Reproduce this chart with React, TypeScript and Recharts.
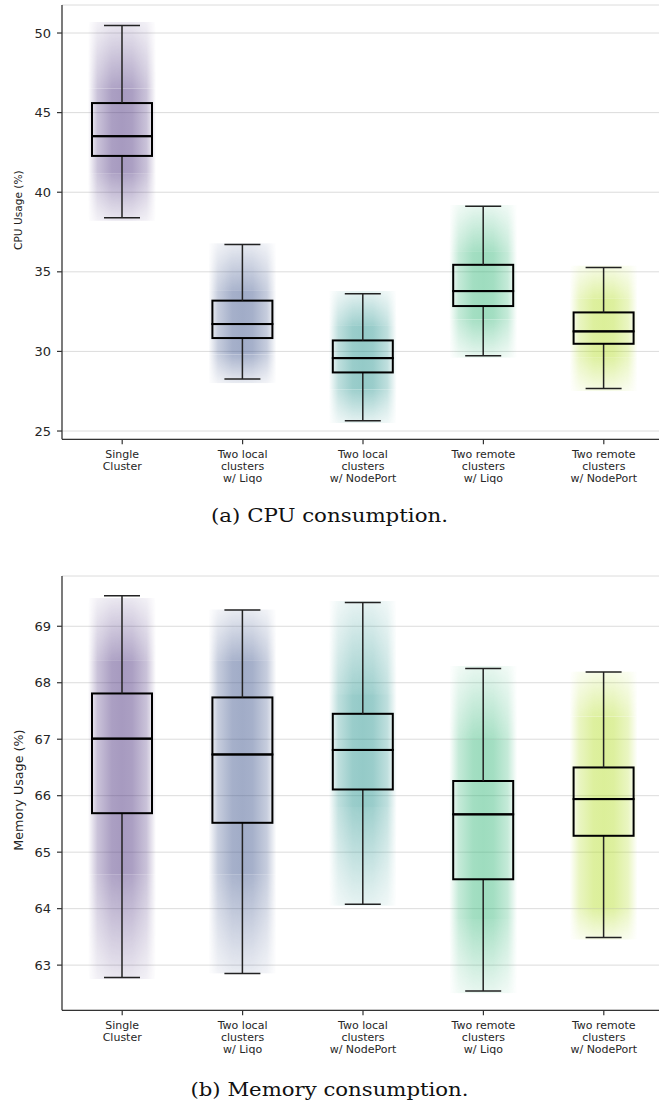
import React from 'react';
import { ComposedChart, Bar, XAxis, YAxis, CartesianGrid } from 'recharts';

const categories = [
  'Single\nCluster',
  'Two local\nclusters\nw/ Liqo',
  'Two local\nclusters\nw/ NodePort',
  'Two remote\nclusters\nw/ Liqo',
  'Two remote\nclusters\nw/ NodePort',
];
const colors = ['#472d7b', '#3b528b', '#21918c', '#35b779', '#b5de2b'];

// CPU box stats
const cpuMin = [38.4, 28.26, 25.64, 29.73, 27.67];
const cpuQ1 = [42.28, 30.84, 28.68, 32.85, 30.48];
const cpuMedian = [43.52, 31.72, 29.58, 33.79, 31.26];
const cpuQ3 = [45.6, 33.19, 30.69, 35.44, 32.45];
const cpuMax = [50.48, 36.72, 33.63, 39.12, 35.27];
// extent of the jittered points (outer) and their dense part (core)
const cpuCloudLow = [38.2, 28.0, 25.5, 29.6, 27.5];
const cpuCoreLow = [41.2, 29.8, 27.6, 32.0, 29.6];
const cpuCoreHigh = [46.5, 33.8, 31.6, 36.3, 33.3];
const cpuCloudHigh = [50.7, 36.8, 33.8, 39.2, 35.4];
const cpuTicks = [25, 30, 35, 40, 45, 50];

// Memory box stats
const memMin = [62.78, 62.85, 64.08, 62.54, 63.49];
const memQ1 = [65.69, 65.52, 66.11, 64.52, 65.29];
const memMedian = [67.01, 66.73, 66.81, 65.67, 65.94];
const memQ3 = [67.81, 67.74, 67.45, 66.26, 66.5];
const memMax = [69.54, 69.29, 69.42, 68.25, 68.19];
const memCloudLow = [62.75, 62.85, 64.05, 62.5, 63.45];
const memCoreLow = [64.6, 64.6, 65.8, 63.8, 64.0];
const memCoreHigh = [68.4, 68.4, 67.8, 67.0, 67.4];
const memCloudHigh = [69.5, 69.3, 69.45, 68.3, 68.2];
const memTicks = [63, 64, 65, 66, 67, 68, 69];

const buildRows = (
  mins: number[], q1: number[], med: number[], q3: number[], maxs: number[],
  cLow: number[], kLow: number[], kHigh: number[], cHigh: number[]
) =>
  categories.map((name, i) => ({
    name,
    ci: i,
    w0: mins[i],
    w1: q1[i] - mins[i],
    w2: med[i] - q1[i],
    w3: q3[i] - med[i],
    w4: maxs[i] - q3[i],
    c0: cLow[i],
    c1: kLow[i] - cLow[i],
    c2: kHigh[i] - kLow[i],
    c3: cHigh[i] - kHigh[i],
  }));

const cpuData = buildRows(cpuMin, cpuQ1, cpuMedian, cpuQ3, cpuMax, cpuCloudLow, cpuCoreLow, cpuCoreHigh, cpuCloudHigh);
const memData = buildRows(memMin, memQ1, memMedian, memQ3, memMax, memCloudLow, memCoreLow, memCoreHigh, memCloudHigh);

const FONT = '"DejaVu Sans", sans-serif';

const Empty = () => <g />;

const LowerWhisker = (p: any) => {
  const cx = p.x + p.width / 2;
  const cap = p.width * 0.3;
  return (
    <g>
      <line x1={cx} x2={cx} y1={p.y} y2={p.y + p.height} stroke="#222" strokeWidth={1.5} />
      <line x1={cx - cap} x2={cx + cap} y1={p.y + p.height} y2={p.y + p.height} stroke="#222" strokeWidth={1.5} />
    </g>
  );
};

const UpperWhisker = (p: any) => {
  const cx = p.x + p.width / 2;
  const cap = p.width * 0.3;
  return (
    <g>
      <line x1={cx} x2={cx} y1={p.y} y2={p.y + p.height} stroke="#222" strokeWidth={1.5} />
      <line x1={cx - cap} x2={cx + cap} y1={p.y} y2={p.y} stroke="#222" strokeWidth={1.5} />
    </g>
  );
};

const BoxHalf = (p: any) => (
  <rect x={p.x} y={p.y} width={p.width} height={p.height} fill="none" stroke="#000" strokeWidth={2} />
);

const cloudShape = (opacity: number, mask?: string) => (p: any) => (
  <rect
    x={p.x}
    y={p.y}
    width={p.width}
    height={p.height}
    fill={`url(#fade${p.payload.ci})`}
    opacity={opacity}
    mask={mask ? `url(#${mask})` : undefined}
  />
);
const CloudLowerTail = cloudShape(0.45, 'fadeDownMask');
const CloudCore = cloudShape(0.48);
const CloudUpperTail = cloudShape(0.45, 'fadeUpMask');

const CategoryTick = (p: any) => {
  const lines = String(p.payload.value).split('\n');
  return (
    <text x={p.x} y={p.y} textAnchor="middle" fontFamily={FONT} fontSize={11} fill="#262626">
      {lines.map((l, i) => (
        <tspan key={i} x={p.x} dy={i === 0 ? 12 : 11.7}>{l}</tspan>
      ))}
    </text>
  );
};

interface BoxChartProps {
  data: any[];
  domain: [number, number];
  ticks: number[];
  title: string;
  titleSize: number;
  titleX: number;
  titleShift: number;
}

const BoxChart = ({ data, domain, ticks, title, titleSize, titleX, titleShift }: BoxChartProps) => (
  <ComposedChart width={665} height={500} data={data} margin={{ top: 5, right: 1, bottom: 0, left: 0 }}>
    <defs>
      {colors.map((c, i) => (
        <linearGradient key={i} id={`fade${i}`} x1="0" y1="0" x2="1" y2="0">
          <stop offset="0%" stopColor={c} stopOpacity={0} />
          <stop offset="14%" stopColor={c} stopOpacity={0.6} />
          <stop offset="35%" stopColor={c} stopOpacity={0.95} />
          <stop offset="50%" stopColor={c} stopOpacity={1} />
          <stop offset="65%" stopColor={c} stopOpacity={0.95} />
          <stop offset="86%" stopColor={c} stopOpacity={0.6} />
          <stop offset="100%" stopColor={c} stopOpacity={0} />
        </linearGradient>
      ))}
      <linearGradient id="vDown" x1="0" y1="0" x2="0" y2="1">
        <stop offset="0%" stopColor="#fff" stopOpacity={1} />
        <stop offset="100%" stopColor="#fff" stopOpacity={0.25} />
      </linearGradient>
      <linearGradient id="vUp" x1="0" y1="0" x2="0" y2="1">
        <stop offset="0%" stopColor="#fff" stopOpacity={0.25} />
        <stop offset="100%" stopColor="#fff" stopOpacity={1} />
      </linearGradient>
      <mask id="fadeDownMask" maskContentUnits="objectBoundingBox">
        <rect x={0} y={0} width={1} height={1} fill="url(#vDown)" />
      </mask>
      <mask id="fadeUpMask" maskContentUnits="objectBoundingBox">
        <rect x={0} y={0} width={1} height={1} fill="url(#vUp)" />
      </mask>
    </defs>
    <CartesianGrid vertical={false} stroke="#dcdcdc" strokeWidth={1} />
    <XAxis
      dataKey="name"
      height={60.7}
      interval={0}
      tickSize={5}
      tick={<CategoryTick />}
      axisLine={{ stroke: '#333', strokeWidth: 1.3 }}
      tickLine={{ stroke: '#333', strokeWidth: 1.2 }}
    />
    <XAxis
      xAxisId="cloud"
      dataKey="name"
      orientation="top"
      height={0}
      tick={false}
      tickLine={false}
      axisLine={{ stroke: '#333', strokeWidth: 1.3 }}
    />
    <YAxis
      type="number"
      domain={domain}
      ticks={ticks}
      allowDataOverflow
      width={62}
      tickSize={5}
      tickMargin={6}
      axisLine={{ stroke: '#333', strokeWidth: 1.3 }}
      tickLine={{ stroke: '#333', strokeWidth: 1.2 }}
      tick={{ fontFamily: FONT, fontSize: 13, fill: '#262626' }}
      label={(lp: any) => {
        const vb = lp.viewBox || { y: 5, height: 435 };
        const cy = vb.y + vb.height / 2 + titleShift;
        return (
          <text
            x={titleX}
            y={cy}
            transform={`rotate(-90, ${titleX}, ${cy})`}
            textAnchor="middle"
            dominantBaseline="central"
            fontFamily={FONT}
            fontSize={titleSize}
            fill="#222"
          >
            {title}
          </text>
        );
      }}
    />
    <Bar xAxisId="cloud" dataKey="c0" stackId="cloud" barSize={68} shape={<Empty />} isAnimationActive={false} />
    <Bar xAxisId="cloud" dataKey="c1" stackId="cloud" barSize={68} shape={CloudLowerTail} isAnimationActive={false} />
    <Bar xAxisId="cloud" dataKey="c2" stackId="cloud" barSize={68} shape={CloudCore} isAnimationActive={false} />
    <Bar xAxisId="cloud" dataKey="c3" stackId="cloud" barSize={68} shape={CloudUpperTail} isAnimationActive={false} />
    <Bar dataKey="w0" stackId="box" barSize={60} shape={<Empty />} isAnimationActive={false} />
    <Bar dataKey="w1" stackId="box" barSize={60} shape={LowerWhisker} isAnimationActive={false} />
    <Bar dataKey="w2" stackId="box" barSize={60} shape={BoxHalf} isAnimationActive={false} />
    <Bar dataKey="w3" stackId="box" barSize={60} shape={BoxHalf} isAnimationActive={false} />
    <Bar dataKey="w4" stackId="box" barSize={60} shape={UpperWhisker} isAnimationActive={false} />
  </ComposedChart>
);

const Caption = ({ text, top, width, size }: { text: string; top: number; width: number; size: number }) => (
  <svg width={659} height={30} style={{ position: 'absolute', left: 0, top }}>
    <text
      x={329.5}
      y={20}
      textAnchor="middle"
      fontFamily='"DejaVu Serif", "Liberation Serif", serif'
      fontSize={size}
      fill="#111"
      textLength={width}
      lengthAdjust="spacingAndGlyphs"
    >
      {text}
    </text>
  </svg>
);

export default function App() {
  return (
    <div style={{ position: 'absolute', left: 0, top: 0, width: 659, height: 1106, overflow: 'hidden', background: '#fff' }}>
      <div style={{ position: 'absolute', left: 0, top: 0 }}>
        <BoxChart data={cpuData} domain={[24.48, 51.76]} ticks={cpuTicks} title="CPU Usage (%)" titleSize={10.6} titleX={18} titleShift={-12} />
      </div>
      <Caption text="(a) CPU consumption." top={502} width={237} size={18} />
      <div style={{ position: 'absolute', left: 0, top: 570.7 }}>
        <BoxChart data={memData} domain={[62.2, 69.89]} ticks={memTicks} title="Memory Usage (%)" titleSize={12.7} titleX={19} titleShift={-3} />
      </div>
      <Caption text="(b) Memory consumption." top={1076} width={278} size={18} />
    </div>
  );
}
